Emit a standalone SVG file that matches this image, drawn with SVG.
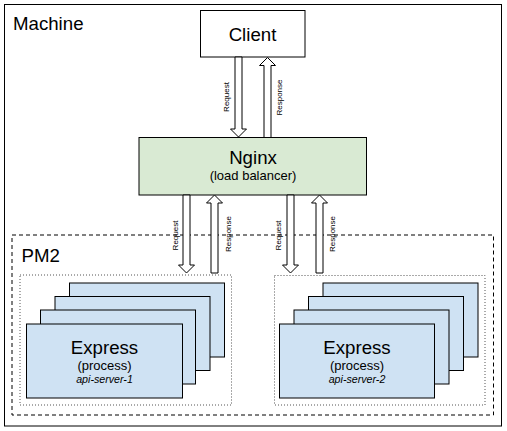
<svg xmlns="http://www.w3.org/2000/svg" width="507" height="431" viewBox="0 0 507 431">
<defs>
<style>
text{font-family:"Liberation Sans",Arial,sans-serif;fill:#000}
.box{stroke:#000;stroke-width:1}
.exp{fill:#cfe2f3;stroke:#000;stroke-width:1}
.arrow{fill:#fff;stroke:#000;stroke-width:1}
.lbl{font-size:8px;text-anchor:middle}
.big{font-size:18.67px}
.mid{font-size:13px;text-anchor:middle}
.sm{font-size:10.67px;font-style:italic;text-anchor:middle}
</style>
</defs>
<rect width="507" height="431" fill="#fff"/>
<g id="machine">
<rect x="4.5" y="4.5" width="497" height="421.5" fill="#fff" class="box"/>
<text x="13" y="30" class="big">Machine</text>
</g>
<g id="pm2">
<rect x="12" y="235" width="481.5" height="180" fill="none" stroke="#000" stroke-width="1" stroke-dasharray="4,3"/>
<text x="21.5" y="261.5" class="big">PM2</text>
</g>
<g id="client">
<rect x="200.5" y="10.5" width="104.5" height="46.5" fill="#fff" class="box"/>
<text x="252.5" y="41" class="big" text-anchor="middle">Client</text>
</g>
<g id="nginx">
<rect x="139" y="137.5" width="227.5" height="57.5" fill="#d9ead3" class="box"/>
<text x="253" y="164" class="big" text-anchor="middle">Nginx</text>
<text x="253" y="180" class="mid">(load balancer)</text>
</g>
<g id="group-1">
<rect x="20" y="275" width="211.5" height="130" fill="none" stroke="#555" stroke-width="1" stroke-dasharray="1,2"/>
<rect x="69.5" y="283" width="155" height="74" class="exp"/>
<rect x="55" y="296.5" width="155" height="74" class="exp"/>
<rect x="40.5" y="310" width="155" height="74" class="exp"/>
<g id="api-server-1">
<rect x="26.5" y="324" width="156" height="74" class="exp"/>
<text x="104.5" y="353.5" class="big" text-anchor="middle">Express</text>
<text x="104.5" y="370" class="mid">(process)</text>
<text x="104.5" y="383" class="sm">api-server-1</text>
</g>
</g>
<g id="group-2">
<rect x="274.5" y="275.5" width="210.5" height="129.5" fill="none" stroke="#555" stroke-width="1" stroke-dasharray="1,2"/>
<rect x="323" y="283" width="155" height="74" class="exp"/>
<rect x="308.5" y="296.5" width="155" height="74" class="exp"/>
<rect x="294" y="310" width="155" height="74" class="exp"/>
<g id="api-server-2">
<rect x="279.5" y="324" width="155" height="74" class="exp"/>
<text x="357" y="353.5" class="big" text-anchor="middle">Express</text>
<text x="357" y="370" class="mid">(process)</text>
<text x="357" y="383" class="sm">api-server-2</text>
</g>
</g>
<g id="connectors">
<polygon class="arrow" points="235,57 242,57 242,129 246.5,129 238.5,137 230.5,129 235,129"/>
<polygon class="arrow" points="264,137.5 271,137.5 271,65.5 275.5,65.5 267.5,57.5 259.5,65.5 264,65.5"/>
<polygon class="arrow" points="183,195 190,195 190,265 194.5,265 186.5,273 178.5,265 183,265"/>
<polygon class="arrow" points="211,273 218,273 218,203 222.5,203 214.5,195 206.5,203 211,203"/>
<polygon class="arrow" points="287,195 294,195 294,265 298.5,265 290.5,273 282.5,265 287,265"/>
<polygon class="arrow" points="316,273 323,273 323,203 327.5,203 319.5,195 311.5,203 316,203"/>
<text class="lbl" transform="translate(228.5,97) rotate(-90)">Request</text>
<text class="lbl" transform="translate(282,97.5) rotate(-90)">Response</text>
<text class="lbl" transform="translate(177.5,235.5) rotate(-90)">Request</text>
<text class="lbl" transform="translate(230.5,234) rotate(-90)">Response</text>
<text class="lbl" transform="translate(281,235.5) rotate(-90)">Request</text>
<text class="lbl" transform="translate(334.5,234) rotate(-90)">Response</text>
</g>
</svg>
